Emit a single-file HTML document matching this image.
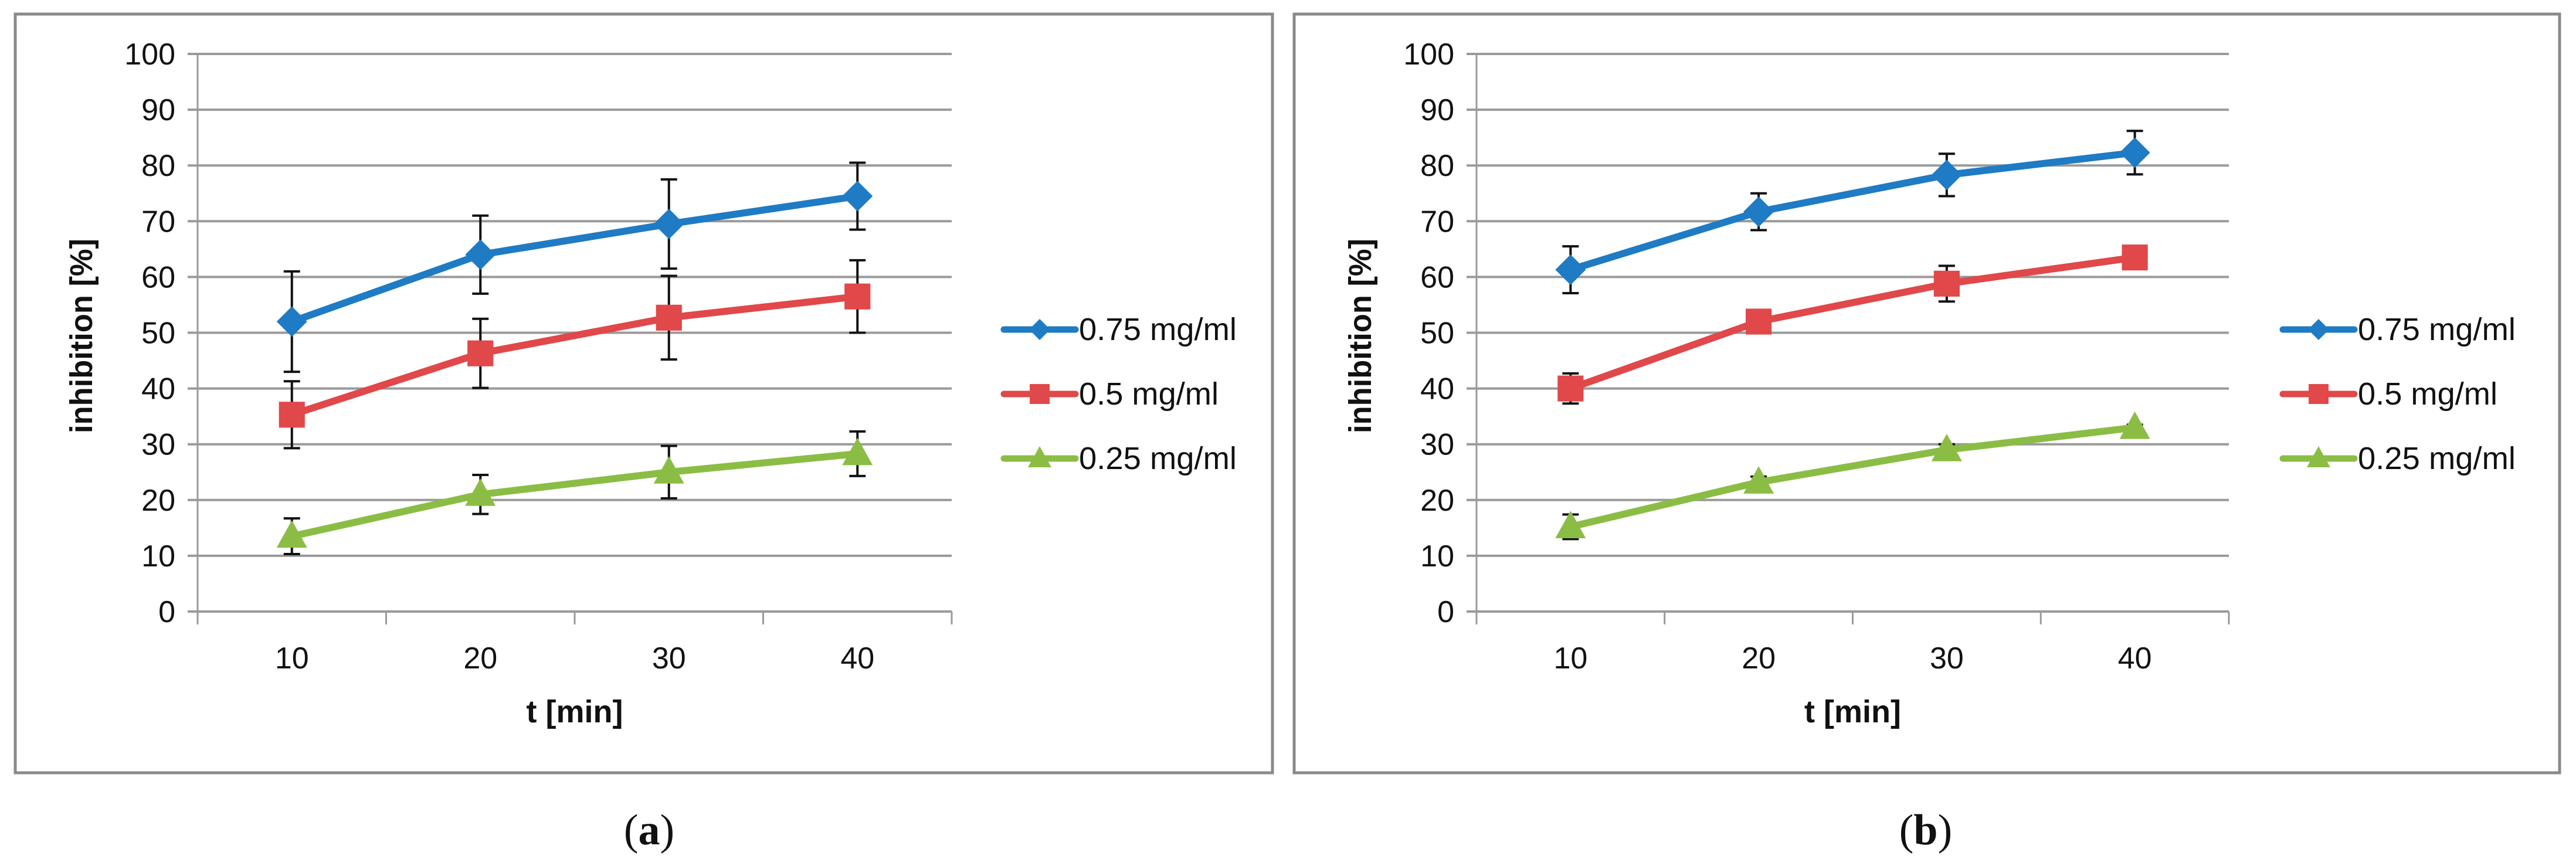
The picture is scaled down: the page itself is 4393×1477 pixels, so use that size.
<!DOCTYPE html>
<html><head><meta charset="utf-8"><style>
html,body{margin:0;padding:0;background:#fff;}
svg{display:block;}
text{font-family:"Liberation Sans",sans-serif;fill:#111;}
</style></head><body>
<svg id="fig" width="4393" height="1477" viewBox="0 0 4393 1477" xmlns="http://www.w3.org/2000/svg"></svg>
<script>
const categories = [10, 20, 30, 40];
const yTicks = [0,10,20,30,40,50,60,70,80,90,100];
const seriesNames = ["0.75 mg/ml", "0.5 mg/ml", "0.25 mg/ml"];
const a_high = [52, 64, 69.5, 74.5];
const a_high_err = [9, 7, 8, 6];
const a_mid = [35.3, 46.3, 52.7, 56.5];
const a_mid_err = [6, 6.2, 7.5, 6.5];
const a_low = [13.5, 21, 25, 28.3];
const a_low_err = [3.2, 3.5, 4.7, 4];
const b_high = [61.3, 71.7, 78.3, 82.3];
const b_high_err = [4.2, 3.3, 3.8, 3.9];
const b_mid = [40, 52, 58.8, 63.5];
const b_mid_err = [2.7, 0.5, 3.2, 0.5];
const b_low = [15.2, 23.2, 29, 33];
const b_low_err = [2.2, 1, 1, 0.5];

const NS = "http://www.w3.org/2000/svg";
const svg = document.getElementById('fig');
const colors = ["#1f7bc4", "#e0484a", "#8bbd45"];
const shapes = ["diamond", "square", "triangle"];

function el(tag, attrs, parent, txt){
  const e = document.createElementNS(NS, tag);
  for (const k in attrs) e.setAttribute(k, attrs[k]);
  if (txt !== undefined) e.textContent = txt;
  (parent || svg).appendChild(e);
  return e;
}
function marker(g, shape, cx, cy, color, s){
  let m;
  if (shape === "diamond") m = el('polygon', {points:`${cx},${cy-s} ${cx+s},${cy} ${cx},${cy+s} ${cx-s},${cy}`, fill:color}, g);
  else if (shape === "square") m = el('rect', {x:cx-s*0.85, y:cy-s*0.85, width:s*1.7, height:s*1.7, fill:color}, g);
  else m = el('polygon', {points:`${cx},${cy-s*1.05} ${cx+s},${cy+s*0.75} ${cx-s},${cy+s*0.75}`, fill:color}, g);
  return m;
}

function panel(cfg){
  const g = el('g', {});
  
  
  const border = el('rect', {x:cfg.bx, y:24, width:cfg.bw, height:1294, fill:'none', stroke:'#8a8a8a', 'stroke-width':5}, g);
  
  
  const x0 = cfg.ax, x1 = cfg.ax2, y0 = 1043, yTop = 92;
  const yS = v => y0 - (v / 100) * (y0 - yTop);
  const band = (x1 - x0) / categories.length;
  const xS = i => x0 + band * (i + 0.5);
  yTicks.forEach(t => {
    const ln = el('line', {x1:x0-17, x2:x1, y1:yS(t), y2:yS(t), stroke:'#9a9a9a', 'stroke-width':4}, g);
    
    
    const tx = el('text', {x:x0-38, y:yS(t)+18, 'text-anchor':'end', 'font-size':52}, g, String(t));
    
    
  });
  const ya = el('line', {x1:x0, x2:x0, y1:yTop, y2:y0+20, stroke:'#9a9a9a', 'stroke-width':3}, g);
  
  
  for (let i = 0; i <= categories.length; i++){
    const xt = x0 + band * i;
    const tk = el('line', {x1:xt, x2:xt, y1:y0, y2:y0+22, stroke:'#9a9a9a', 'stroke-width':3}, g);
    
    
  }
  categories.forEach((c, i) => {
    const tx = el('text', {x:xS(i), y:1140, 'text-anchor':'middle', 'font-size':52}, g, String(c));
    
    
  });
  const xt = el('text', {x:(x0+x1)/2, y:1232, 'text-anchor':'middle', 'font-size':54, 'font-weight':'bold'}, g, 't [min]');
  
  
  const yt = el('text', {x:0, y:0, 'text-anchor':'middle', 'font-size':54, 'font-weight':'bold', textLength:332, lengthAdjust:'spacingAndGlyphs', transform:`translate(${x0-180},573) rotate(-90)`}, g, 'inhibition  [%]');
  
  
  cfg.series.forEach((s, si) => {
    const sg = el('g', {}, g);
    
    
    s.vals.forEach((v, i) => {
      const e = s.err[i], cx = xS(i);
      const eb = el('path', {d:`M${cx},${yS(v+e)}V${yS(v-e)}M${cx-14},${yS(v+e)}H${cx+14}M${cx-14},${yS(v-e)}H${cx+14}`, stroke:'#111', 'stroke-width':4, fill:'none'}, sg);
      
      
    });
    const pts = s.vals.map((v, i) => `${xS(i)},${yS(v)}`).join(' ');
    const pl = el('polyline', {points:pts, fill:'none', stroke:colors[si], 'stroke-width':12, 'stroke-linejoin':'round'}, sg);
    
    
    s.vals.forEach((v, i) => {
      const m = marker(sg, shapes[si], xS(i), yS(v), colors[si], 26);
      
      
    });
  });
  seriesNames.forEach((n, si) => {
    const ly = 562 + si * 110;
    const lg = el('g', {}, g);
    
    
    const ll = el('line', {x1:cfg.lx, x2:cfg.lx+122, y1:ly, y2:ly, stroke:colors[si], 'stroke-width':11, 'stroke-linecap':'round'}, lg);
    
    
    const lm = marker(lg, shapes[si], cfg.lx+61, ly, colors[si], shapes[si]==="diamond"?18:20);
    
    
    const tw = [269, 238, 269][si];
    const lt = el('text', {x:cfg.lx+128, y:ly+18, 'font-size':54, textLength:tw, lengthAdjust:'spacingAndGlyphs'}, lg, n);
    
    
  });
  const cap = el('text', {x:cfg.capx, y:1440, 'text-anchor':'middle', 'font-size':74, style:'font-family:"Liberation Serif",serif'}, g);
  
  
  el('tspan', {}, cap, '(');
  el('tspan', {'font-weight':'bold'}, cap, cfg.letter);
  el('tspan', {}, cap, ')');
}

panel({name:'chart-a', bx:26, bw:2144, ax:337, ax2:1623, lx:1712, capx:1107, letter:'a',
  series:[{vals:a_high, err:a_high_err},{vals:a_mid, err:a_mid_err},{vals:a_low, err:a_low_err}]});
panel({name:'chart-b', bx:2207, bw:2158, ax:2518, ax2:3801, lx:3893, capx:3284, letter:'b',
  series:[{vals:b_high, err:b_high_err},{vals:b_mid, err:b_mid_err},{vals:b_low, err:b_low_err}]});
</script>
</body></html>
